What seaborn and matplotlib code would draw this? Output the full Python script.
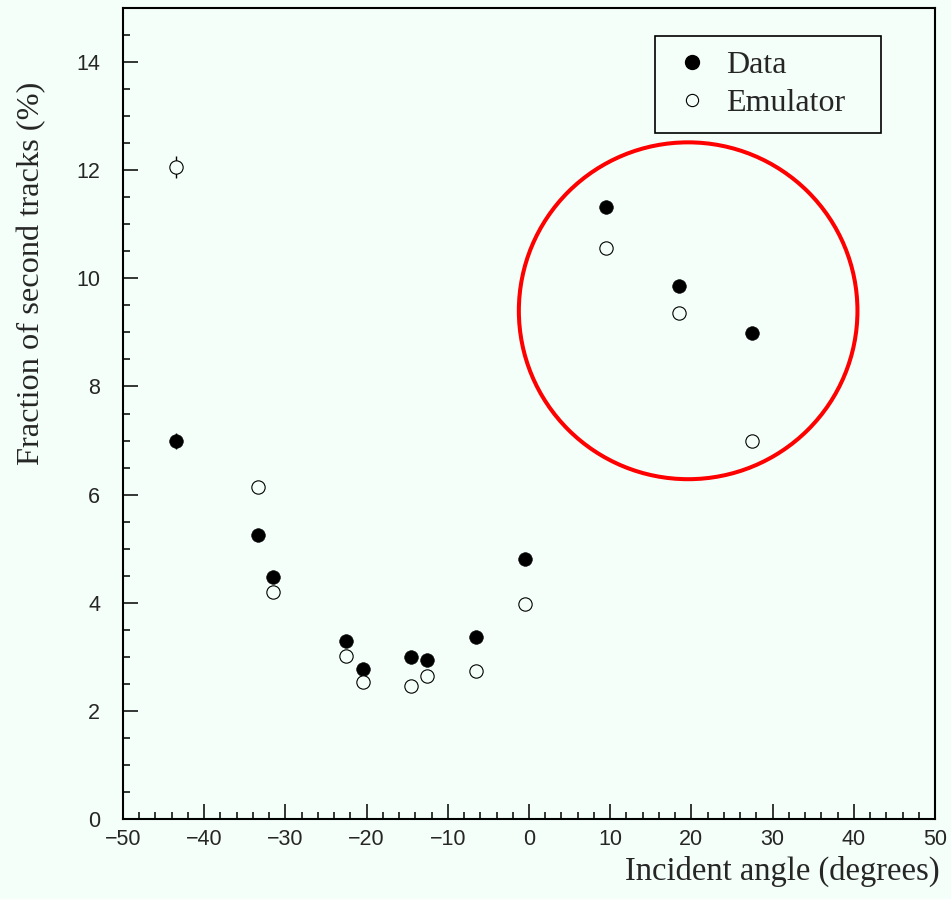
import matplotlib
matplotlib.use("Agg")
import matplotlib.pyplot as plt
from matplotlib.lines import Line2D
from matplotlib.patches import Ellipse
from matplotlib.ticker import MultipleLocator
import numpy as np
import pandas as pd
import seaborn as sns

# Incident angle of the track (degrees)
angle = [-43.5, -33.4, -31.5, -22.5, -20.4, -14.5, -12.6, -6.5, -0.5, 9.5, 18.5, 27.5]
# Fraction of second tracks (%)
data_frac = [6.99, 5.25, 4.48, 3.30, 2.78, 2.99, 2.94, 3.36, 4.81, 11.32, 9.86, 8.99]
emu_frac = [12.06, 6.14, 4.20, 3.01, 2.53, 2.46, 2.64, 2.74, 3.98, 10.56, 9.36, 6.99]
data_err = [0.15, 0.08, 0.08, 0.06, 0.06, 0.06, 0.06, 0.06, 0.08, 0.1, 0.1, 0.1]
emu_err = [0.20, 0.1, 0.08, 0.06, 0.06, 0.06, 0.06, 0.06, 0.08, 0.1, 0.1, 0.1]

series_labels = ["Data", "Emulator"]
x_title = "Incident angle (degrees)"
y_title = "Fraction of second tracks (%)"

bg = "#f4fff9"
sns.set_theme(style="ticks")
plt.rcParams["font.family"] = ["Liberation Sans", "DejaVu Sans"]
plt.rcParams["axes.unicode_minus"] = True

df = pd.DataFrame({"angle": angle, "data": data_frac, "emu": emu_frac,
                   "data_err": data_err, "emu_err": emu_err})

fig = plt.figure(figsize=(9.51, 8.99), dpi=100, facecolor=bg)
ax = fig.add_axes([123 / 951, 1 - 819 / 899, 812 / 951, 811 / 899])
ax.set_facecolor(bg)

# error bars sit below the markers
ax.errorbar(df["angle"], df["data"], yerr=df["data_err"], fmt="none",
            ecolor="black", elinewidth=1.0, capsize=0, zorder=2)
ax.errorbar(df["angle"], df["emu"], yerr=df["emu_err"], fmt="none",
            ecolor="black", elinewidth=1.0, capsize=0, zorder=2)

sns.scatterplot(data=df, x="angle", y="data", ax=ax, color="black",
                s=97, marker="o", edgecolor="black", linewidth=0.4, zorder=3)
sns.scatterplot(data=df, x="angle", y="emu", ax=ax, facecolor=bg,
                s=92, marker="o", edgecolor="black", linewidth=0.8, zorder=3)

ax.set_xlim(-50, 50)
ax.set_ylim(0, 15)
ax.xaxis.set_major_locator(MultipleLocator(10))
ax.xaxis.set_minor_locator(MultipleLocator(2))
ax.yaxis.set_major_locator(MultipleLocator(2))
ax.yaxis.set_minor_locator(MultipleLocator(0.5))
ax.tick_params(which="both", direction="in", top=False, right=False,
               width=1.1, color="black", labelsize=15.5)
ax.tick_params(which="major", length=10.8)
ax.tick_params(which="minor", length=5.0)
ax.tick_params(axis="x", which="major", pad=7.5)
ax.tick_params(axis="y", which="major", pad=16.5)
for sp in ax.spines.values():
    sp.set_visible(True)
    sp.set_linewidth(1.5)
    sp.set_color("black")

serif = ["Liberation Serif", "DejaVu Serif"]
ax.set_xlabel(x_title, fontsize=23.5, family=serif, ha="right", va="center")
ax.xaxis.set_label_coords((940 - 123) / 812, (819 - 871) / 811)
ax.set_ylabel(y_title, fontsize=23.3, family=serif, ha="center", va="center")
ax.yaxis.set_label_coords((32 - 123) / 812, (819 - 273) / 811)

# highlight of the positive-angle points
ring = Ellipse((19.6, 9.40), width=41.7, height=6.23, fill=False,
               edgecolor="red", linewidth=2.9, zorder=4)
ax.add_patch(ring)

handles = [
    Line2D([], [], linestyle="none", marker="o", markersize=10,
           markerfacecolor="black", markeredgecolor="black"),
    Line2D([], [], linestyle="none", marker="o", markersize=8.8,
           markerfacecolor=bg, markeredgecolor="black", markeredgewidth=0.8),
]
lx0 = (655 - 123) / 812
lx1 = (881 - 123) / 812
ly1 = (819 - 36) / 811
ly0 = (819 - 131) / 811
leg = ax.legend(handles, series_labels, loc="upper left",
                bbox_to_anchor=(lx0, ly0, lx1 - lx0, ly1 - ly0), mode="expand",
                prop={"family": serif, "size": 23}, frameon=True,
                fancybox=False, edgecolor="black", facecolor=bg, framealpha=1,
                borderpad=0.47, labelspacing=0.27, handlelength=1.35,
                handletextpad=0.42, borderaxespad=0)
leg.get_frame().set_linewidth(1.2)

fig.savefig("out.png", dpi=100, facecolor=bg)
